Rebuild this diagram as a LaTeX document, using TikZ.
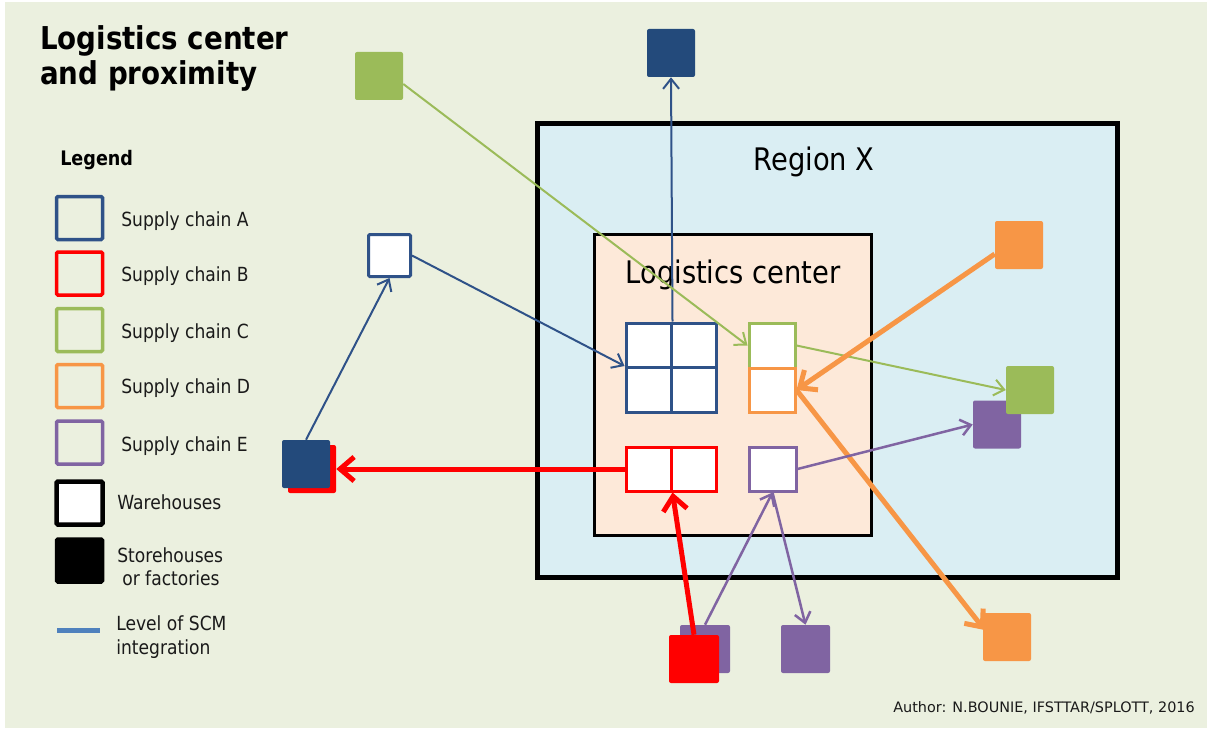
\documentclass[tikz,border=0pt]{standalone}
\usepackage{fontspec}
\setmainfont{DejaVu Sans}
\newfontfamily\tah{DejaVu Sans}[FakeStretch=0.88]
\usetikzlibrary{arrows.meta,calc}
\definecolor{bgc}{HTML}{EBF0DF}
\definecolor{regc}{HTML}{DAEEF3}
\definecolor{lcc}{HTML}{FDE9D9}
\definecolor{cA}{HTML}{2F5288}
\definecolor{cAf}{HTML}{234A7B}
\definecolor{cB}{HTML}{FF0000}
\definecolor{cC}{HTML}{9BBB59}
\definecolor{cD}{HTML}{F79646}
\definecolor{cE}{HTML}{8064A2}
\definecolor{scm}{HTML}{4F81BD}
\definecolor{txt}{HTML}{1A1A1A}
\newcommand\pp[1]{#1*0.75pt}
\begin{document}
\begin{tikzpicture}[x=0.75pt,y=-0.75pt,
  fsq/.style={rectangle, inner sep=0pt, minimum width=\pp{48}, minimum height=\pp{48}, rounded corners=1.5pt, fill=#1},
  cell/.style={rectangle, inner sep=0pt, draw=#1, fill=white, line width=\pp{3}},
  lgbox/.style={rectangle, inner sep=0pt, minimum width=\pp{46}, minimum height=\pp{43}, draw=#1, line width=\pp{3.5}, rounded corners=1pt},
  thinarr/.style={line width=\pp{2}, -{Straight Barb[length=7.5pt,width=12pt]}},
  thickarr/.style={line width=\pp{5}, -{Straight Barb[length=10.5pt,width=18pt]}},
  lbl/.style={anchor=base west, inner sep=0pt, text=txt, font=\tah\fontsize{14.6}{17}\selectfont},
  big/.style={anchor=base, inner sep=0pt, text=black, font=\tah\fontsize{23.3}{28}\selectfont}]
\useasboundingbox (0,0) rectangle (1212,731);
\fill[white] (0,0) rectangle (1212,731);
\fill[bgc] (5,2) rectangle (1207,728);

% title
\node[anchor=base west, inner sep=0pt, font=\tah\bfseries\fontsize{23.6}{28}\selectfont] (t1) at (40,50) {Logistics center};
\node[anchor=base west, inner sep=0pt, font=\tah\bfseries\fontsize{23.6}{28}\selectfont] (t2) at (40,85) {and proximity};

% legend
\node[anchor=base west, inner sep=0pt, font=\tah\bfseries\fontsize{15}{18}\selectfont] (lg) at (60,166) {Legend};
\node[lgbox=cA] (lA) at (79.5,218) {};
\node[lgbox=cB] (lB) at (79.5,273.5) {};
\node[lgbox=cC] (lC) at (79.5,330) {};
\node[lgbox=cD] (lD) at (79.5,386) {};
\node[lgbox=cE] (lE) at (79.5,442.5) {};
\node[lgbox=black, fill=white, line width=\pp{4.5}] (lW) at (79.5,503) {};
\node[lgbox=black, fill=black] (lS) at (79.5,560.5) {};
\coordinate (ls1) at (57,630);
\coordinate (ls2) at (100,630);
\draw[scm, line width=\pp{5}] (ls1) -- (ls2);
\node[lbl] (tA1) at (121,226) {Supply chain A};
\node[lbl] (tB1) at (121,281) {Supply chain B};
\node[lbl] (tC1) at (121,338) {Supply chain C};
\node[lbl] (tD1) at (121,393) {Supply chain D};
\node[lbl] (tE1) at (121,451) {Supply chain E};
\node[lbl] (tW1) at (117,509) {Warehouses};
\node[lbl] (tS1) at (117,562) {Storehouses};
\node[lbl] (tS2) at (122,585) {or factories};
\node[lbl] (tL1) at (116,630) {Level of SCM};
\node[lbl] (tL2) at (116,654) {integration};

% region and logistics center
\node[rectangle, inner sep=0pt, draw=black, fill=regc, line width=\pp{5}, minimum width=\pp{580}, minimum height=\pp{454}] (reg) at (827.5,350.5) {};
\node[big] (regt) at (814,171) {Region X};
\node[rectangle, inner sep=0pt, draw=black, fill=lcc, line width=\pp{3}, minimum width=\pp{277}, minimum height=\pp{301}] (lc) at (733,385) {};
\node[big] (lct) at (733,283) {Logistics center};

% cells inside the logistics center
\node[cell=cA, minimum width=\pp{45}, minimum height=\pp{44.5}] (g11) at (648.5,345.25) {};
\node[cell=cA, minimum width=\pp{45}, minimum height=\pp{44.5}] (g12) at (693.5,345.25) {};
\node[cell=cA, minimum width=\pp{45}, minimum height=\pp{44.5}] (g21) at (648.5,389.75) {};
\node[cell=cA, minimum width=\pp{45}, minimum height=\pp{44.5}] (g22) at (693.5,389.75) {};
\node[cell=cC, minimum width=\pp{46}, minimum height=\pp{45}] (gc) at (772,345.5) {};
\node[cell=cD, minimum width=\pp{46}, minimum height=\pp{44}] (oc) at (772,390) {};
\node[cell=cB, minimum width=\pp{45}, minimum height=\pp{44}] (r1) at (648.5,469) {};
\node[cell=cB, minimum width=\pp{45}, minimum height=\pp{44}] (r2) at (693.5,469) {};
\node[cell=cE, minimum width=\pp{47}, minimum height=\pp{44}] (pc) at (772.5,469) {};

% external squares
\node[fsq=cAf] (tA) at (671,53) {};
\node[fsq=cC] (tC) at (379,76) {};
\node[cell=cA, minimum width=\pp{42}, minimum height=\pp{42}, rounded corners=1pt] (wA) at (389.5,255.5) {};
\node[fsq=cB] (bRed) at (312,469) {};
\node[fsq=cAf] (bA) at (306,464) {};
\node[fsq=cD] (oTop) at (1019,245) {};
\node[fsq=cE] (pR) at (997,424.5) {};
\node[fsq=cC] (gR) at (1030,390) {};
\node[fsq=cE, minimum width=\pp{50}] (pB1) at (705,649) {};
\node[fsq=cB, minimum width=\pp{50}] (rB) at (694,659) {};
\node[fsq=cE, minimum width=\pp{49}] (pB2) at (805.5,649) {};
\node[fsq=cD] (oB) at (1007,637) {};

% connectors
\draw[thinarr, cA] (g11.north east) -- (tA.south);
\draw[thinarr, cA] (wA.east) -- (g21.north west);
\draw[thinarr, cA] (bA.north) -- (wA.south);
\draw[thinarr, cC] ($(tC.east)+(0,8)$) -- (gc.west);
\draw[thinarr, cC] (gc.east) -- (gR.west);
\draw[thickarr, cD] ($(oTop.west)+(0,9)$) -- (oc.east);
\draw[thickarr, cD] (oc.east) -- ($(oB.west)+(2,-7)$);
\draw[thickarr, cB] (r1.west) -- (bRed.east);
\draw[thickarr, cB] (rB.north) -- (r1.south east);
\draw[thinarr, cE, line width=\pp{2.5}] (pc.east) -- (pR.west);
\draw[thinarr, cE, line width=\pp{2.5}] (pB1.north) -- (pc.south);
\draw[thinarr, cE, line width=\pp{2.5}] (pc.south) -- (pB2.north);

% author
\node[anchor=base west, inner sep=0pt, text=txt, font=\fontsize{10.8}{13}\selectfont] (auth) at (893,712) {Author: N.BOUNIE, IFSTTAR/SPLOTT, 2016};
\end{tikzpicture}
\end{document}
